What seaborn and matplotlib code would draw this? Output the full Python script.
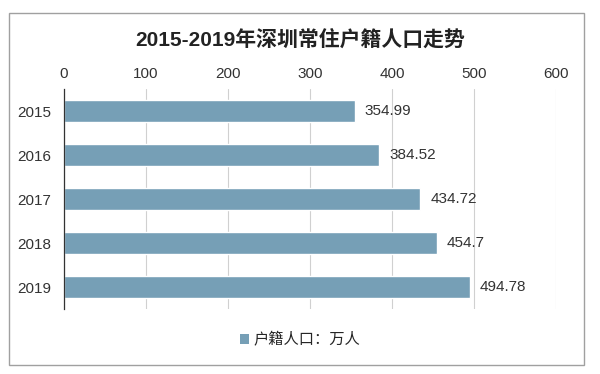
import pandas as pd
import seaborn as sns
import matplotlib.pyplot as plt
from matplotlib.patches import Rectangle, Patch

# data
years = ["2015", "2016", "2017", "2018", "2019"]
population = [354.99, 384.52, 434.72, 454.7, 494.78]
value_labels = ["354.99", "384.52", "434.72", "454.7", "494.78"]

df = pd.DataFrame({"year": years, "pop": population})

sns.set_theme(style="white")
plt.rcParams["font.family"] = ["Liberation Sans", "Noto Sans CJK SC", "DejaVu Sans"]

bar_color = "#769fb6"

fig = plt.figure(figsize=(6, 3.74), dpi=100)
ax = fig.add_axes([0.1067, 0.1738, 0.82, 0.588])

sns.barplot(data=df, x="pop", y="year", order=years, color=bar_color,
            width=0.5, saturation=1, ax=ax)

ax.set_xlim(0, 600)
ax.set_xticks(range(0, 601, 100))
ax.xaxis.tick_top()
ax.tick_params(axis="x", length=0, pad=6, labelsize=11, labelcolor="#333333")
ax.tick_params(axis="y", length=0, pad=9, labelsize=11, labelcolor="#333333")
ax.set_xlabel("")
ax.set_ylabel("")
ax.grid(axis="x", color="#d0d0d0", linewidth=0.8)
ax.set_axisbelow(True)
for s in ["top", "right", "bottom"]:
    ax.spines[s].set_visible(False)
ax.spines["left"].set_color("#333333")
ax.spines["left"].set_linewidth(0.9)

ax.bar_label(ax.containers[0], labels=value_labels, padding=7,
             fontsize=11, color="#333333")

fig.suptitle("2015-2019年深圳常住户籍人口走势", y=0.893, va="center", fontsize=15,
             fontweight="bold", color="#222222",
             family=["Liberation Sans", "Noto Sans CJK SC"])

handle = Patch(facecolor=bar_color, edgecolor="none")
fig.legend([handle], ["户籍人口：万人"], loc="center", bbox_to_anchor=(0.5, 0.091),
           frameon=False, handlelength=0.6, handleheight=0.6,
           handletextpad=0.3, prop={"family": ["Noto Sans CJK SC"], "size": 11})

fig.patches.append(Rectangle((0.015, 0.024), 0.958, 0.941, transform=fig.transFigure,
                             fill=False, edgecolor="#a0a0a0", linewidth=1))

fig.savefig("out.png", dpi=100)
